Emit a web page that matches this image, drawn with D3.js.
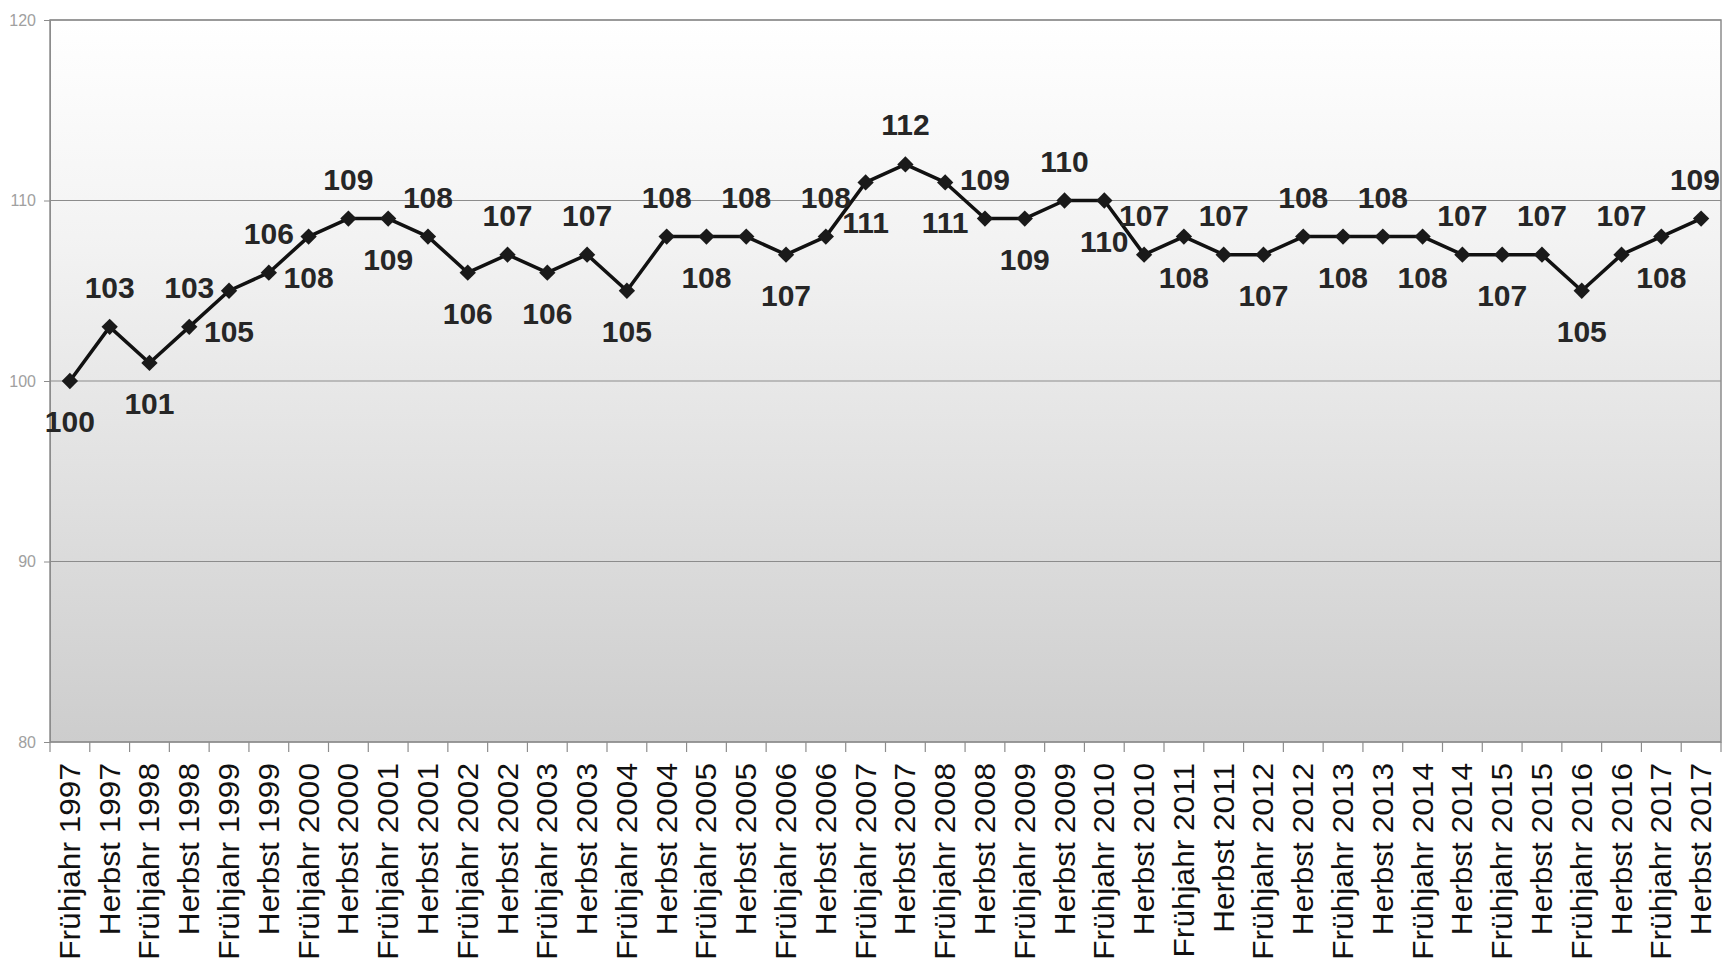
<!DOCTYPE html>
<html>
<head>
<meta charset="utf-8">
<script src="https://cdn.jsdelivr.net/npm/d3@7"></script>
<style>
html,body{margin:0;padding:0;background:#fff;}
svg{display:block;}
</style>
</head>
<body>
<svg id="chart" width="1723" height="963"></svg>
<script>
const years = d3.range(1997, 2018);
const categories = [];
years.forEach(y => { categories.push("Frühjahr " + y); categories.push("Herbst " + y); });
const values = [100,103,101,103,105,106,108,109,109,108,106,107,106,107,105,108,108,108,107,108,
                111,112,111,109,109,110,110,107,108,107,107,108,108,108,108,107,107,107,105,107,108,109];
const yTicks = [80,90,100,110,120];

const svg = d3.select("#chart");
const margin = {left: 50, right: 2, top: 20, bottom: 221};
const W = 1723, H = 963;
const x0 = margin.left, x1 = W - margin.right, y0 = margin.top, y1 = H - margin.bottom;

const x = d3.scaleBand().domain(categories).range([x0, x1]).paddingInner(0).paddingOuter(0);
const y = d3.scaleLinear().domain([80,120]).range([y1, y0]);

const defs = svg.append("defs");
const grad = defs.append("linearGradient").attr("id","bg").attr("x1",0).attr("y1",0).attr("x2",0).attr("y2",1);
grad.append("stop").attr("offset","0%").attr("stop-color","#ffffff");
grad.append("stop").attr("offset","30%").attr("stop-color","#f3f3f3");
grad.append("stop").attr("offset","100%").attr("stop-color","#cdcdcd");

svg.append("rect").attr("x",x0).attr("y",y0).attr("width",x1-x0).attr("height",y1-y0).attr("fill","url(#bg)");

// gridlines
svg.append("g").selectAll("line").data(yTicks).join("line")
  .attr("x1",x0).attr("x2",x1).attr("y1",d=>y(d)).attr("y2",d=>y(d))
  .attr("stroke","#8c8c8c").attr("stroke-width",1.2);

// border
svg.append("rect").attr("x",x0).attr("y",y0).attr("width",x1-x0).attr("height",y1-y0)
  .attr("fill","none").attr("stroke","#8c8c8c").attr("stroke-width",1.5);

// y axis
const yAxis = d3.axisLeft(y).tickValues(yTicks).tickSize(6).tickPadding(8);
const gy = svg.append("g").attr("transform",`translate(${x0},0)`).call(yAxis);
gy.select(".domain").attr("stroke","#8c8c8c");
gy.selectAll(".tick line").attr("stroke","#8c8c8c");
gy.selectAll(".tick text").attr("fill","#a0a0a0").attr("font-family","Liberation Sans, Arial, sans-serif").attr("font-size","16px");

// x axis ticks at band boundaries
const boundaries = categories.map(c => x(c)).concat([x1]);
svg.append("g").selectAll("line").data(boundaries).join("line")
  .attr("x1",d=>d).attr("x2",d=>d).attr("y1",y1).attr("y2",y1+10)
  .attr("stroke","#8c8c8c").attr("stroke-width",1.2);

// x labels
svg.append("g").selectAll("text").data(categories).join("text")
  .attr("transform", d => `translate(${x(d)+x.bandwidth()/2+10},${y1+21}) rotate(-90) scale(1.09,1)`)
  .attr("text-anchor","end")
  .attr("font-family","Liberation Sans, Arial, sans-serif")
  .attr("font-size","29px")
  .attr("fill","#111")
  .text(d => d);

// line
const cx = (d,i) => x(categories[i]) + x.bandwidth()/2;
const line = d3.line().x((d,i)=>cx(d,i)).y(d=>y(d));
svg.append("path").datum(values).attr("d",line)
  .attr("fill","none").attr("stroke","#111").attr("stroke-width",3.5).attr("stroke-linejoin","round");

// markers
svg.append("g").selectAll("path").data(values).join("path")
  .attr("d", d3.symbol().type(d3.symbolDiamond2).size(170))
  .attr("transform",(d,i)=>`translate(${cx(d,i)},${y(d)})`)
  .attr("fill","#1a1a1a");

// labels
const lab = svg.append("g").selectAll("text").data(values).join("text")
  .attr("font-family","Liberation Sans, Arial, sans-serif")
  .attr("font-weight","bold")
  .attr("font-size","30px")
  .attr("fill","#262626")
  .attr("text-anchor","middle")
  .attr("x",(d,i)=>cx(d,i))
  .attr("y",(d,i)=> i%2===0 ? y(d)+51 : y(d)-29)
  .text(d=>d);
lab.each(function(){
  const bb = this.getBBox();
  if (bb.x + bb.width > x1 - 1) d3.select(this).attr("x", +d3.select(this).attr("x") - (bb.x+bb.width - (x1-1)));
});
</script>
</body>
</html>
